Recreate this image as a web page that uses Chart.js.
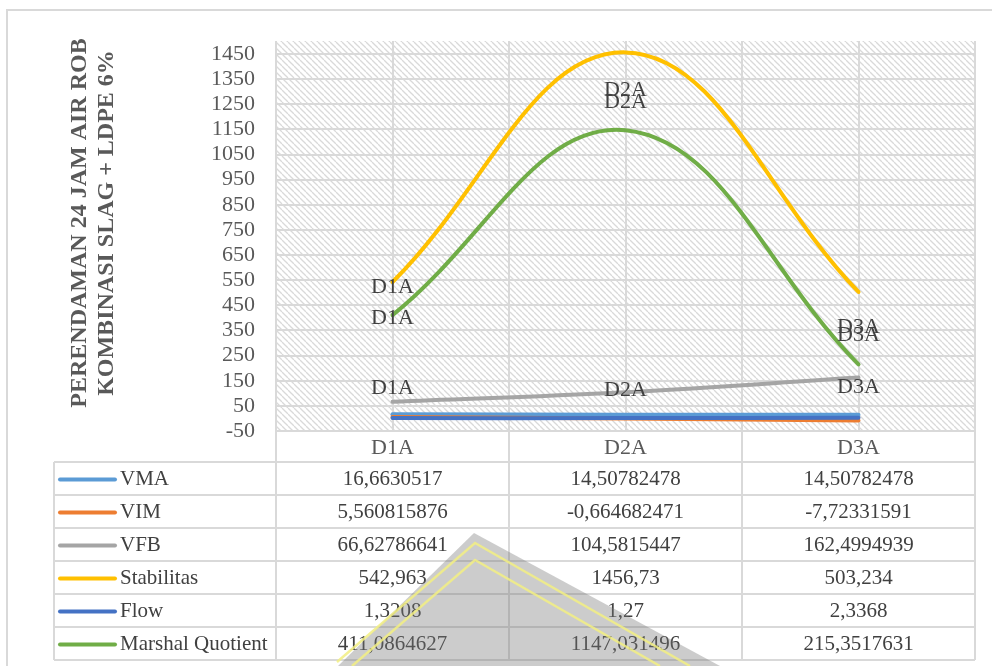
<!DOCTYPE html>
<html>
<head>
<meta charset="utf-8">
<script src="https://cdn.jsdelivr.net/npm/chart.js@4.4.1/dist/chart.umd.min.js"></script>
<style>
  html, body { margin: 0; padding: 0; background: #ffffff; }
  #wrap { width: 992px; height: 666px; position: relative; }
</style>
</head>
<body>
<div id="wrap"><canvas id="c" width="992" height="666"></canvas></div>
<script>
// Marshall test results after 24 h tidal-water immersion
const categories = ['D1A', 'D2A', 'D3A'];
const vma = [16.6630517, 14.50782478, 14.50782478];
const vim = [5.560815876, -0.664682471, -7.72331591];
const vfb = [66.62786641, 104.5815447, 162.4994939];
const stabilitas = [542.963, 1456.73, 503.234];
const flow = [1.3208, 1.27, 2.3368];
const marshalQuotient = [411.0864627, 1147.031496, 215.3517631];
const yTickValues = [-50, 50, 150, 250, 350, 450, 550, 650, 750, 850, 950, 1050, 1150, 1250, 1350, 1450];
const axisTitle = ['PERENDAMAN 24 JAM AIR ROB', 'KOMBINASI SLAG + LDPE 6%'];

const SERIF = "'Liberation Serif', 'Times New Roman', serif";
const GRID = '#d9d9d9';

const series = [
  { label: 'VMA', data: vma, color: '#5B9BD5' },
  { label: 'VIM', data: vim, color: '#ED7D31' },
  { label: 'VFB', data: vfb, color: '#A5A5A5', labelShift: [-13, -2, 10] },
  { label: 'Stabilitas', data: stabilitas, color: '#FFC000', labelShift: [5, 38, 35] },
  { label: 'Flow', data: flow, color: '#4472C4' },
  { label: 'Marshal Quotient', data: marshalQuotient, color: '#70AD47', labelShift: [3, -28, -29] }
];

// table geometry (below the plot)
const TABLE = { left: 54, headerH: 31, rowH: 33, keyX0: 60, keyX1: 115, textX: 120 };

function hatchPattern(ctx) {
  const t = document.createElement('canvas');
  t.width = 6; t.height = 6;
  const g = t.getContext('2d');
  g.fillStyle = '#ffffff';
  g.fillRect(0, 0, 6, 6);
  g.strokeStyle = '#d9d9d9';
  g.lineWidth = 1.3;
  for (const o of [-6, 0, 6]) {
    g.beginPath();
    g.moveTo(o, 0);
    g.lineTo(o + 6, 6);
    g.stroke();
  }
  return ctx.createPattern(t, 'repeat');
}

function fmt(v) { return String(v).replace('.', ','); }

const backdropPlugin = {
  id: 'backdrop',
  beforeDraw(chart) {
    const { ctx, chartArea: a } = chart;
    ctx.save();
    ctx.fillStyle = '#ffffff';
    ctx.fillRect(0, 0, chart.width, chart.height);
    // outer frame
    ctx.strokeStyle = GRID;
    ctx.lineWidth = 2;
    ctx.beginPath();
    ctx.moveTo(7, chart.height);
    ctx.lineTo(7, 10);
    ctx.lineTo(chart.width, 10);
    ctx.stroke();
    // hatched plot area
    ctx.fillStyle = hatchPattern(ctx);
    ctx.fillRect(a.left, a.top, a.right - a.left, a.bottom - a.top);
    ctx.restore();
  }
};

const tablePlugin = {
  id: 'dataTable',
  beforeDatasetsDraw(chart) {
    const { ctx, chartArea: a } = chart;
    const x = chart.scales.x;
    const rowsTop = a.bottom + TABLE.headerH;
    const bottom = rowsTop + TABLE.rowH * series.length;
    ctx.save();
    ctx.strokeStyle = GRID;
    ctx.lineWidth = 2;
    // vertical column lines, running up through the plot
    const edges = [a.left];
    for (let i = 0; i < categories.length - 1; i++) {
      edges.push((x.getPixelForValue(i) + x.getPixelForValue(i + 1)) / 2);
    }
    edges.push(a.right);
    ctx.beginPath();
    edges.forEach(e => { ctx.moveTo(e, a.top); ctx.lineTo(e, bottom); });
    ctx.moveTo(TABLE.left, rowsTop); ctx.lineTo(TABLE.left, bottom);
    // horizontal lines
    ctx.moveTo(a.left, a.bottom); ctx.lineTo(a.right, a.bottom);
    for (let r = 0; r <= series.length; r++) {
      const y = rowsTop + r * TABLE.rowH;
      ctx.moveTo(TABLE.left, y); ctx.lineTo(a.right, y);
    }
    ctx.stroke();
    ctx.restore();
  },
  afterDraw(chart) {
    const { ctx, chartArea: a } = chart;
    const x = chart.scales.x;
    const rowsTop = a.bottom + TABLE.headerH;
    ctx.save();
    ctx.font = '21px ' + SERIF;
    ctx.textBaseline = 'middle';
    series.forEach((s, r) => {
      const cy = rowsTop + r * TABLE.rowH + TABLE.rowH / 2 + 1;
      ctx.strokeStyle = s.color;
      ctx.lineWidth = 4;
      ctx.lineCap = 'round';
      ctx.beginPath();
      ctx.moveTo(TABLE.keyX0, cy);
      ctx.lineTo(TABLE.keyX1, cy);
      ctx.stroke();
      ctx.fillStyle = '#404040';
      ctx.textAlign = 'left';
      ctx.fillText(s.label, TABLE.textX, cy);
      ctx.textAlign = 'center';
      s.data.forEach((v, i) => ctx.fillText(fmt(v), x.getPixelForValue(i), cy));
    });
    ctx.restore();
  }
};

const pointLabelPlugin = {
  id: 'pointLabels',
  afterDatasetsDraw(chart) {
    const { ctx } = chart;
    ctx.save();
    ctx.font = '22px ' + SERIF;
    ctx.fillStyle = '#404040';
    ctx.textAlign = 'center';
    ctx.textBaseline = 'middle';
    series.forEach((s, di) => {
      if (!s.labelShift) return;
      chart.getDatasetMeta(di).data.forEach((pt, i) => {
        ctx.fillText(categories[i], pt.x, pt.y + s.labelShift[i]);
      });
    });
    ctx.restore();
  }
};

const axisTitlePlugin = {
  id: 'axisTitle',
  afterDraw(chart) {
    const { ctx } = chart;
    ctx.save();
    ctx.translate(93, 223);
    ctx.rotate(-Math.PI / 2);
    ctx.font = 'bold 24px ' + SERIF;
    ctx.fillStyle = '#595959';
    ctx.textAlign = 'center';
    ctx.textBaseline = 'middle';
    ctx.fillText(axisTitle[0], 0, -13);
    ctx.fillText(axisTitle[1], 0, 14);
    ctx.restore();
  }
};

// faint emblem printed over the lower part of the page
const emblemPlugin = {
  id: 'emblem',
  afterDraw(chart) {
    const { ctx } = chart;
    const H = chart.height;
    ctx.save();
    ctx.fillStyle = 'rgba(120,120,120,0.38)';
    ctx.beginPath();
    ctx.moveTo(474, 533);
    ctx.lineTo(720, H);
    ctx.lineTo(338, H);
    ctx.closePath();
    ctx.fill();
    ctx.strokeStyle = 'rgba(242,238,130,0.85)';
    ctx.lineWidth = 2.5;
    ctx.beginPath();
    ctx.moveTo(337, 662); ctx.lineTo(475, 543); ctx.lineTo(690, H);
    ctx.moveTo(352, H); ctx.lineTo(475, 560); ctx.lineTo(660, H);
    ctx.stroke();
    ctx.restore();
  }
};

new Chart(document.getElementById('c'), {
  type: 'line',
  data: {
    labels: categories,
    datasets: series.map((s, i) => ({
      label: s.label,
      data: s.data,
      borderColor: s.color,
      backgroundColor: s.color,
      borderWidth: 4,
      pointRadius: 0,
      tension: 0.4,
      borderCapStyle: 'round',
      fill: false,
      order: series.length - i
    }))
  },
  options: {
    responsive: false,
    devicePixelRatio: 1,
    animation: false,
    layout: { padding: { left: 0, top: 41, right: 17, bottom: 0 } },
    plugins: { legend: { display: false }, tooltip: { enabled: false } },
    scales: {
      x: {
        type: 'category',
        offset: true,
        grid: { offset: false, color: GRID, lineWidth: 2, drawTicks: false },
        border: { display: false },
        ticks: { color: '#595959', font: { family: SERIF, size: 22 }, padding: 4 },
        afterFit(scale) { scale.height = 235; }
      },
      y: {
        min: -50,
        max: 1502,
        grid: { color: GRID, lineWidth: 2, drawTicks: false },
        border: { display: false },
        ticks: {
          color: '#595959',
          font: { family: SERIF, size: 22 },
          padding: 21,
          autoSkip: false,
          callback: v => String(v)
        },
        afterBuildTicks(scale) { scale.ticks = yTickValues.map(v => ({ value: v })); },
        afterFit(scale) { scale.width = 276; }
      }
    }
  },
  plugins: [backdropPlugin, tablePlugin, pointLabelPlugin, axisTitlePlugin, emblemPlugin]
});
</script>
</body>
</html>
